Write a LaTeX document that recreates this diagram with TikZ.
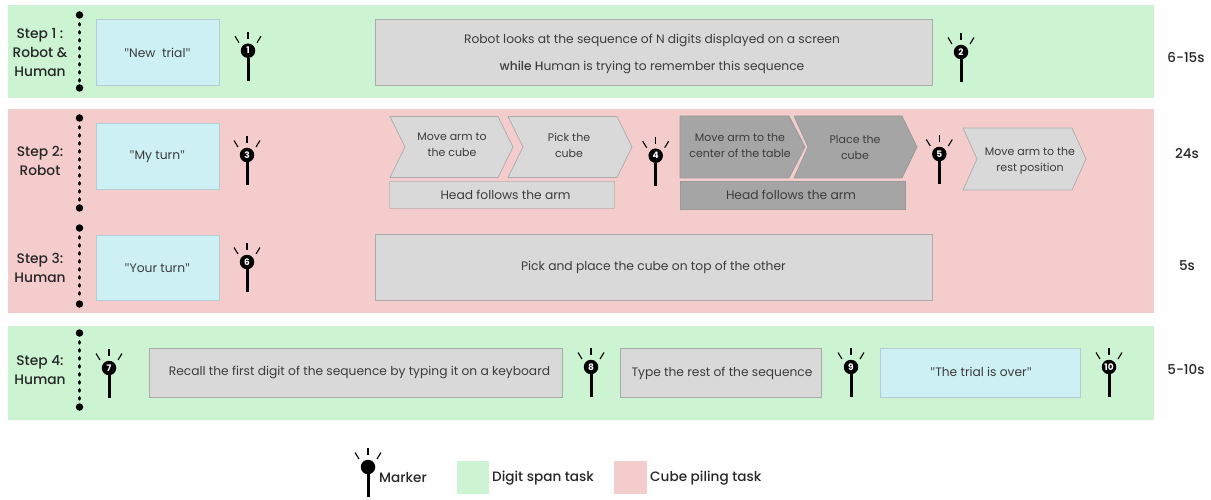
\documentclass[tikz,border=0pt]{standalone}
\usepackage{fontspec}
\setmainfont[BoldFont={Poppins Medium}]{Poppins}
\newfontfamily\quotefont{Open Sans}
\newfontfamily\digitfont{Poppins Bold}
\definecolor{bandgreen}{HTML}{CCF4D2}
\definecolor{bandred}{HTML}{F5CCCC}
\definecolor{cuebox}{HTML}{CDF0F5}
\definecolor{cueline}{HTML}{B5CDD2}
\definecolor{greybox}{HTML}{D9D9D9}
\definecolor{greyline}{HTML}{ABABAB}
\definecolor{darkbox}{HTML}{A5A5A5}
\definecolor{darkline}{HTML}{999999}
\definecolor{boxtext}{HTML}{3C3C3C}
\newcommand{\dq}{{\quotefont\symbol{34}}}
\tikzset{
  boxbase/.style={inner sep=0pt,anchor=north west,align=center,text=boxtext,font=\fontsize{12.3}{27}\selectfont,line width=0.8pt},
  cue/.style={boxbase,fill=cuebox,draw=cueline},
  greyb/.style={boxbase,fill=greybox,draw=greyline},
  darkb/.style={boxbase,fill=darkbox,draw=darkline},
  boxtextonly/.style={inner sep=0pt,align=center,text=boxtext,font=\fontsize{12.25}{27}\selectfont},
  chevtext/.style={align=center,text=boxtext,inner sep=0pt,font=\fontsize{11}{16}\selectfont},
  chevl/.style={fill=greybox,draw=greyline,line width=0.7pt,line join=round},
  chevd/.style={fill=darkbox,draw=darkline,line width=0.7pt,line join=round},
  steplabel/.style={align=center,inner sep=0pt,font=\fontsize{13.8}{19}\selectfont\bfseries,text=black!85},
  timelabel/.style={inner sep=0pt,font=\fontsize{13.5}{15}\selectfont\bfseries,text=black!85},
  legendtext/.style={inner sep=0pt,anchor=west,font=\fontsize{13.6}{15}\selectfont\bfseries,text=black!85},
  dotline/.style={line width=3.6pt,line cap=round,dash pattern=on 1pt off 7pt,dash phase=3pt},
  dotend/.style={circle,fill=black,inner sep=0pt,minimum size=7.5pt},
  markhead/.style={circle,fill=black,inner sep=0pt,minimum size=14.5pt,text=white,font=\digitfont\fontsize{9}{9}\selectfont},
  ray/.style={line width=1.1pt},
  stem/.style={line width=3pt}
}
% name, x, y of head centre, number
\newcommand{\mymarker}[4]{%
  \node[markhead] (#1) at (#2,#3) {#4};
  \coordinate (#1s) at (#2,#3+30);
  \draw[stem] (#1) -- (#1s);
  \draw[ray] (#2,#3-19) -- (#2,#3-12);
  \draw[ray] (#2-13,#3-14.5) -- (#2-9,#3-8);
  \draw[ray] (#2+13,#3-14.5) -- (#2+9,#3-8);
}
\newcommand{\mydots}[3]{%
  \node[dotend] (#1a) at (79.5,#2) {};
  \node[dotend] (#1b) at (79.5,#3) {};
  \draw[dotline] (#1a) -- (#1b);
}
\begin{document}
\begin{tikzpicture}[x=1pt,y=-1pt]
\useasboundingbox (0,0) rectangle (1211,500);
% bands
\fill[bandgreen] (8,5) rectangle (1154,98);
\fill[bandred] (8,109) rectangle (1154,313);
\fill[bandgreen] (8,326) rectangle (1154,420);
% step labels
\node[steplabel] (s1) at (40,53) {Step 1 :\\Robot \&\\Human};
\node[steplabel] (s2) at (40,161) {Step 2:\\Robot};
\node[steplabel] (s3) at (40,267.5) {Step 3:\\Human};
\node[steplabel] (s4) at (40,370.5) {Step 4:\\Human};
% dotted lines
\mydots{d1}{15}{88}
\mydots{d2}{118}{208}
\mydots{d3}{228}{304}
\mydots{d4}{333}{407}
% step 1
\node[cue,minimum width=123pt,minimum height=66pt] (newtrial) at (95.5,19) {\dq New\ \ trial\dq};
\node[greyb,minimum width=557pt,minimum height=66pt] (looks) at (374.5,19) {};
\node[boxtextonly] (lookst) at (652,54) {Robot looks at the sequence of N digits displayed on a screen\\{\bfseries while H}uman is trying to remember this sequence};
\mymarker{m1}{248}{50.7}{1}
\mymarker{m2}{961}{52}{2}
% step 2
\node[cue,minimum width=123pt,minimum height=66pt] (myturn) at (95.5,123) {\dq My turn\dq};
\mymarker{m3}{247}{155}{3}
\draw[chevl] (390,116.5) -- (498,116.5) -- (513,147) -- (498,177.5) -- (390,177.5) -- (405,147) -- cycle;
\node[chevtext] (c1) at (452,145) {Move arm to\\the cube};
\draw[chevl] (508,116.5) -- (617,116.5) -- (632,147) -- (617,177.5) -- (508,177.5) -- (523,147) -- cycle;
\node[chevtext] (c2) at (569,145) {Pick the\\cube};
\mymarker{m4}{655.7}{155.7}{4}
\draw[chevd] (680,116) -- (789,116) -- (805,147) -- (789,178) -- (680,178) -- cycle;
\node[chevtext] (c3) at (740,145.5) {Move arm to the\\center of the table};
\draw[chevd] (794,116) -- (902,116) -- (917,147) -- (902,178) -- (794,178) -- (808,147) -- cycle;
\node[chevtext] (c4) at (855,147) {Place the\\cube};
\mymarker{m5}{939.3}{154}{5}
\draw[chevl] (963,128) -- (1072,128) -- (1086,159) -- (1072,190) -- (963,190) -- (977,159) -- cycle;
\node[chevtext] (c5) at (1030,160.5) {Move arm to the\\rest position};
\node[boxbase,fill=greybox,draw=greyline!60!bandred,minimum width=225pt,minimum height=27pt] (h1) at (389,181) {};
\node[boxtextonly] (h1t) at (505.5,195) {Head follows the arm};
\node[darkb,minimum width=225pt,minimum height=28pt] (h2) at (680,181) {};
\node[boxtextonly] (h2t) at (791,195) {Head follows the arm};
% step 3
\node[cue,minimum width=123pt,minimum height=65pt] (yourturn) at (95.5,235) {\dq Your turn\dq};
\mymarker{m6}{247}{262}{6}
\node[greyb,minimum width=557pt,minimum height=66pt] (pick) at (374.5,234) {Pick and place the cube on top of the other};
% step 4
\mymarker{m7}{109}{368}{7}
\node[greyb,minimum width=413pt,minimum height=49pt] (recall) at (149,348) {};
\node[boxtextonly] (recallt) at (359.5,372) {Recall the first digit of the sequence by typing it on a keyboard};
\mymarker{m8}{591}{367}{8}
\node[greyb,minimum width=201pt,minimum height=49pt] (rest) at (620,348) {};
\node[boxtextonly] (restt) at (722,373) {Type the rest of the sequence};
\mymarker{m9}{851}{367}{9}
\node[cue,minimum width=200pt,minimum height=49pt] (over) at (880,348) {};
\node[boxtextonly] (overt) at (981,372) {\dq The trial is over\dq};
\mymarker{m10}{1109}{367}{10}
% times
\node[timelabel] (t1) at (1186,58) {6-15s};
\node[timelabel] (t2) at (1187,154) {24s};
\node[timelabel] (t3) at (1187,266) {5s};
\node[timelabel] (t4) at (1186,370) {5-10s};
% legend
\mymarker{lm}{368}{467}{}
\node[legendtext] (lt1) at (379,478) {Marker};
\fill[bandgreen] (457,461) rectangle (489,494);
\node[legendtext] (lt2) at (492,478) {Digit span task};
\fill[bandred] (614,461) rectangle (647,494);
\node[legendtext] (lt3) at (650,478) {Cube piling task};
\end{tikzpicture}
\end{document}
